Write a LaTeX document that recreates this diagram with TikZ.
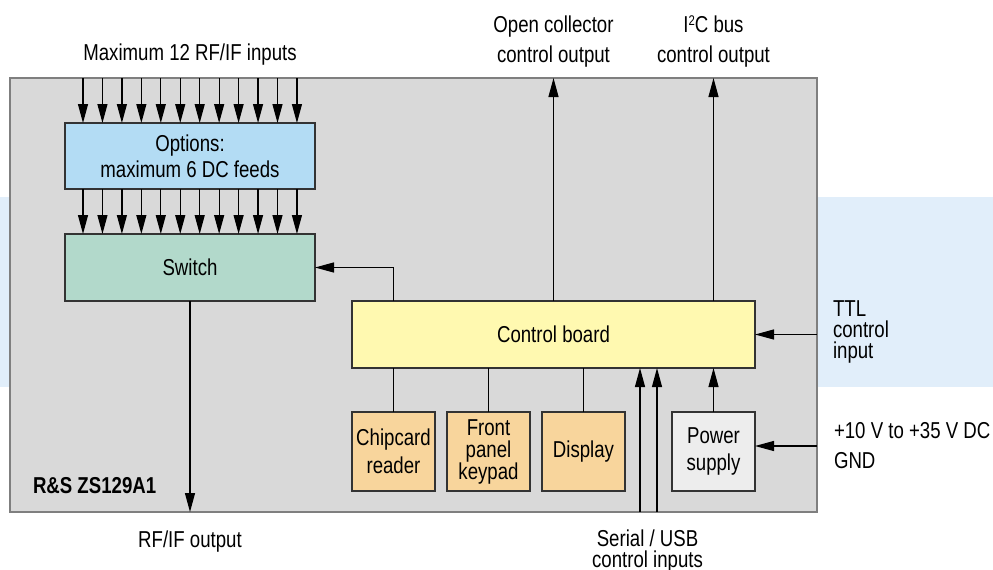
\documentclass[tikz,border=0pt]{standalone}
\usepackage{fontspec}
\setmainfont{Liberation Sans}[FakeStretch=0.81]
\usetikzlibrary{arrows.meta,calc}
\definecolor{band}{HTML}{E1EEFA}
\definecolor{devfill}{HTML}{D9D9D9}
\definecolor{devline}{HTML}{7F7F7F}
\definecolor{optfill}{HTML}{B3DCF4}
\definecolor{swfill}{HTML}{B2D9CB}
\definecolor{cbfill}{HTML}{FFF9B0}
\definecolor{orfill}{HTML}{F8D59C}
\definecolor{pwfill}{HTML}{EDEDED}
\definecolor{boxline}{HTML}{333333}
\begin{document}
\begin{tikzpicture}[x=1pt,y=-1pt,
  every node/.style={inner sep=0pt,outer sep=0pt},
  blk/.style={draw=boxline,line width=1.2pt,align=center},
  arr/.style={-{Triangle[length=19pt,width=10pt]},line width=1.2pt},
  conn/.style={line width=1.2pt},
  lbl/.style={font=\fontsize{23}{30}\selectfont,align=center,anchor=base},
  tight/.style={font=\fontsize{23}{21}\selectfont},
]
\useasboundingbox (0,0) rectangle (993,570);
% background band
\fill[band] (0,197) rectangle (993,387);
% device box
\node[draw=devline,fill=devfill,line width=1.5pt,minimum width=807pt,minimum height=434pt] (dev) at (413.5,295) {};
% blocks
\node[blk,fill=optfill,minimum width=250pt,minimum height=66pt,font=\fontsize{23}{26}\selectfont] (opts) at (190,156) {Options:\\maximum 6 DC feeds};
\node[blk,fill=swfill,minimum width=250pt,minimum height=67pt,font=\fontsize{23}{26}\selectfont] (sw) at (190,267.5) {Switch};
\node[blk,fill=cbfill,minimum width=403pt,minimum height=67pt,font=\fontsize{23}{26}\selectfont] (cb) at (553.5,334.5) {Control board};
\node[blk,fill=orfill,minimum width=83pt,minimum height=79pt,font=\fontsize{23}{28}\selectfont] (chip) at (393.5,451.5) {Chipcard\\reader};
\node[blk,fill=orfill,minimum width=83pt,minimum height=79pt,font=\fontsize{23}{22}\selectfont] (front) at (488.5,451.5) {Front\\panel\\keypad};
\node[blk,fill=orfill,minimum width=83pt,minimum height=79pt,font=\fontsize{23}{26}\selectfont] (disp) at (583.5,451.5) {Display};
\node[blk,fill=pwfill,minimum width=83pt,minimum height=79pt,font=\fontsize{23}{27}\selectfont] (pwr) at (713.5,451.5) {Power\\supply};
% input arrows
\foreach \i in {0,...,11}{
  \coordinate (t\i) at ($(opts.north west)+(18+\i*19.45,0)$);
  \coordinate (m\i) at ($(opts.south west)+(18+\i*19.45,0)$);
  \draw[arr] (dev.north -| t\i) -- (t\i);
  \draw[arr] (m\i) -- (sw.north -| m\i);
}
% control board connections
\draw[arr] (cb.north -| chip) |- (sw.east);
\draw[arr] (cb.north) -- (dev.north -| cb.north);
\draw[arr] (cb.north -| pwr) -- (dev.north -| pwr);
\draw[conn] (chip.north) -- (cb.south -| chip);
\draw[conn] (front.north) -- (cb.south -| front);
\draw[conn] (disp.north) -- (cb.south -| disp);
\draw[arr] (pwr.north) -- (cb.south -| pwr);
\coordinate (s1) at (640,0);
\coordinate (s2) at (657,0);
\draw[arr] (dev.south -| s1) -- (cb.south -| s1);
\draw[arr] (dev.south -| s2) -- (cb.south -| s2);
\draw[arr] (dev.east |- cb.east) -- (cb.east);
\coordinate (pin) at (0,446);
\draw[arr] (dev.east |- pin) -- (pwr.east |- pin);
\draw[arr] (sw.south) -- (dev.south -| sw.south);
% labels
\node[lbl] (lin) at (190,60) {Maximum 12 RF/IF inputs};
\node[lbl] (loc) at (553.5,62) {Open collector\\control output};
\node[lbl] (li2c) at (713.5,62) {I\raisebox{6.5pt}{\fontsize{14}{14}\selectfont 2}C bus\\control output};
\node[lbl,tight,anchor=base west,align=left] (lttl) at (833,358) {TTL\\control\\input};
\node[lbl,anchor=base west,align=left] (lpwr) at (834,468) {+10 V to +35 V DC\\GND};
\node[lbl,anchor=base west,font=\fontsize{23}{26}\selectfont\bfseries] (lname) at (33,493) {R\&S ZS129A1};
\node[lbl] (lout) at (190,547) {RF/IF output};
\node[lbl,tight] (lser) at (647.5,567) {Serial / USB\\control inputs};
\end{tikzpicture}
\end{document}
